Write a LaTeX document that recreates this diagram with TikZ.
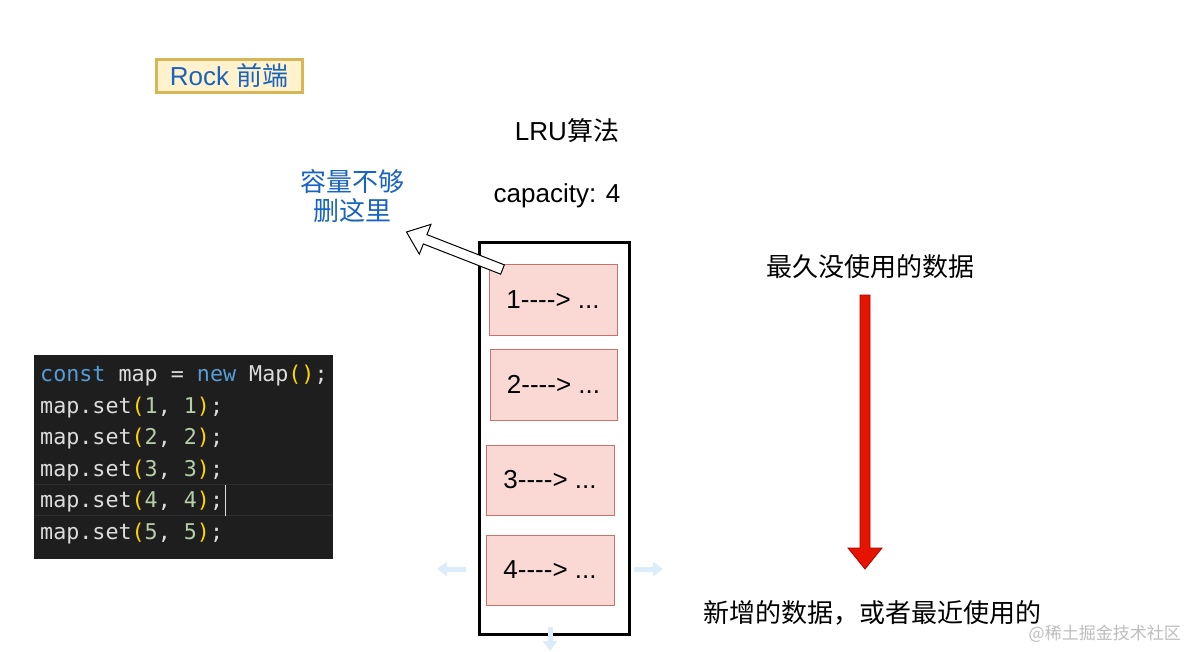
\documentclass[tikz,border=0pt]{standalone}
\usepackage{fontspec}
\setmainfont{Liberation Sans}[Ligatures=TeXOff]
\newfontfamily\cjk{Noto Sans CJK SC}
\newfontfamily\codefont{DejaVu Sans Mono}
\usetikzlibrary{calc,arrows.meta}
\definecolor{rockfill}{HTML}{FFF2CC}
\definecolor{rockline}{HTML}{D6B656}
\definecolor{txtblue}{HTML}{1A64BE}
\definecolor{pinkfill}{HTML}{FAD9D5}
\definecolor{pinkline}{HTML}{C8726C}
\definecolor{codebg}{HTML}{1E1E1E}
\definecolor{codefg}{HTML}{DCDCDC}
\definecolor{kwblue}{HTML}{569CD6}
\definecolor{parenc}{HTML}{FFD700}
\definecolor{numc}{HTML}{B5CEA8}
\definecolor{curline}{HTML}{2E2E2E}
\definecolor{redfill}{HTML}{E51400}
\definecolor{redline}{HTML}{B20000}
\definecolor{hovblue}{HTML}{DCECF8}
\definecolor{wmgray}{HTML}{BDBDBD}
\newcommand\cKw[1]{\textcolor{kwblue}{#1}}
\newcommand\cPa[1]{\textcolor{parenc}{#1}}
\newcommand\cNm[1]{\textcolor{numc}{#1}}
\tikzset{
  txt/.style={inner sep=0, font=\fontsize{26}{30}\selectfont},
  cjktxt/.style={inner sep=0, font=\cjk\fontsize{26}{30}\selectfont},
  pinkbox/.style={draw=pinkline, fill=pinkfill, line width=1, minimum width=128, minimum height=71, inner sep=0, font=\fontsize{26}{30}\selectfont},
  codeline/.style={anchor=base west, inner sep=0, text=codefg, font=\codefont\fontsize{21.7}{26}\selectfont},
  hov/.style={draw=hovblue, line width=5, -{Triangle[width=14,length=10]}},
}
\begin{document}
\begin{tikzpicture}[x=1pt,y=-1pt]
\useasboundingbox (0,0) rectangle (1186,651);
\fill[white] (0,0) rectangle (1186,651);

% Rock label
\node[draw=rockline, fill=rockfill, line width=3, minimum width=146, minimum height=33, inner sep=0,
      text=txtblue, font=\fontsize{26}{30}\selectfont] (rock) at (229,76) {Rock {\cjk 前端}};

% titles
\node[txt] (lru) at (567,131) {LRU{\cjk 算法}};
\node[txt] (cap) at (557,196) {capacity: 4};

% blue note
\node[cjktxt, text=txtblue, align=center, font=\cjk\fontsize{26}{29}\selectfont] (del) at (352,196) {容量不够\\删这里};

% container
\node[draw=black, line width=3, minimum width=150, minimum height=392, inner sep=0] (stack) at (554,438) {};

% entries
\node[pinkbox] (k1) at (553,299.5) {1----> ...};
\node[pinkbox, minimum width=127] (k2) at (553.5,384.5) {2----> ...};
\node[pinkbox, minimum height=70] (k3) at (550,480) {3----> ...};
\node[pinkbox, minimum height=70] (k4) at (550,570) {4----> ...};

% hollow arrow from k1 toward note
\coordinate (tl) at ($(k1.north west)+(14,6)$);
\coordinate (tp) at (406.5,232);
\coordinate (hb) at ($(tp)!20pt!(tl)$);
\draw[fill=white, line width=1, line join=miter] ($(tl)!5pt!90:(tp)$) -- ($(hb)!5pt!-90:(tl)$) -- ($(hb)!16pt!-90:(tl)$) -- (tp)
  -- ($(hb)!16pt!90:(tl)$) -- ($(hb)!5pt!90:(tl)$) -- ($(tl)!5pt!-90:(tp)$) -- cycle;

% right side labels
\node[cjktxt] (old) at (870,267) {最久没使用的数据};
\node[cjktxt, anchor=west] (new) at (703,613) {新增的数据，或者最近使用的};

% red arrow
\coordinate (ra) at (865,295);
\coordinate (rb) at (865,569);
\draw[fill=redfill, draw=redline, line width=0.8]
  ($(ra)+(-5,0)$) -- ($(ra)+(5,0)$) -- ($(rb)+(5,-21)$) -- ($(rb)+(17,-21)$) -- (rb)
  -- ($(rb)+(-17,-21)$) -- ($(rb)+(-5,-21)$) -- cycle;

% code block
\node[fill=codebg, minimum width=299, minimum height=204, inner sep=0] (code) at (183.5,457) {};
\draw[curline, line width=1.2] (34,484.5) -- (333,484.5);
\draw[curline, line width=1.2] (34,515.5) -- (333,515.5);
\node[codeline] (c1) at (40,381.5) {\cKw{const} map = \cKw{new} Map\cPa{()};};
\node[codeline] (c2) at (40,413) {map.set\cPa{(}\cNm{1}, \cNm{1}\cPa{)};};
\node[codeline] (c3) at (40,444.5) {map.set\cPa{(}\cNm{2}, \cNm{2}\cPa{)};};
\node[codeline] (c4) at (40,476) {map.set\cPa{(}\cNm{3}, \cNm{3}\cPa{)};};
\node[codeline] (c5) at (40,507.5) {map.set\cPa{(}\cNm{4}, \cNm{4}\cPa{)};};
\node[codeline] (c6) at (40,539) {map.set\cPa{(}\cNm{5}, \cNm{5}\cPa{)};};
\draw[codefg, line width=1.5] ($(c5.base east)+(2,8)$) -- ($(c5.base east)+(2,-23)$);

% faint hover arrows
\coordinate (hl1) at (466,569); \coordinate (hl2) at (437,569);
\coordinate (hr1) at (634,569); \coordinate (hr2) at (663,569);
\coordinate (hd1) at (550,627); \coordinate (hd2) at (550,651);
\draw[hov] (hl1) -- (hl2);
\draw[hov] (hr1) -- (hr2);
\draw[hov] (hd1) -- (hd2);

% watermark
\node[inner sep=0, anchor=east, text=wmgray, font=\cjk\fontsize{17}{20}\selectfont] (wm) at (1181,634) {@稀土掘金技术社区};
\end{tikzpicture}
\end{document}
